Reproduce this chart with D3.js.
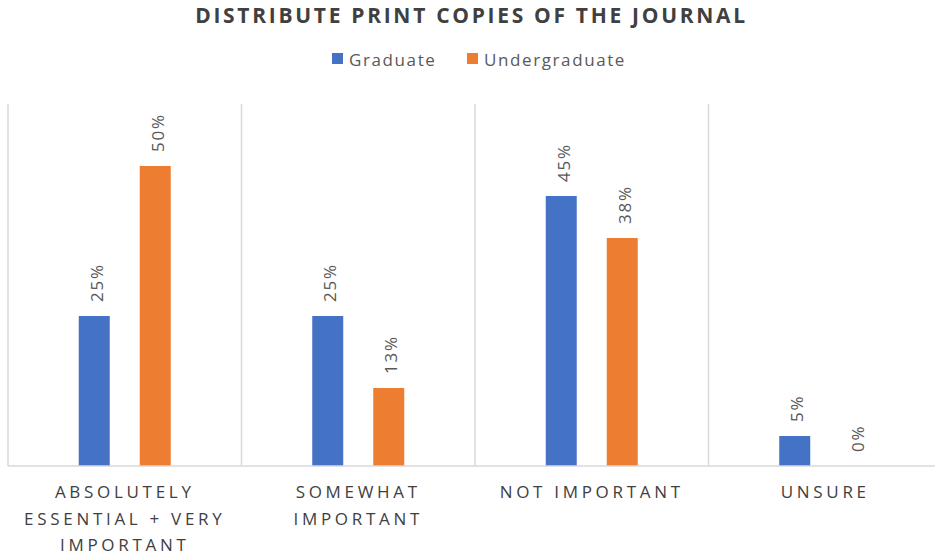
<!DOCTYPE html>
<html>
<head>
<meta charset="utf-8">
<script src="https://cdn.jsdelivr.net/npm/d3@7"></script>
<style>
  html, body { margin: 0; padding: 0; background: #fff; }
  svg { display: block; font-family: "Open Sans", "Noto Sans", sans-serif; }
</style>
</head>
<body>
<svg id="chart" width="935" height="556"></svg>
<script>
// Survey responses by student group
const categories = [
  "ABSOLUTELY ESSENTIAL + VERY IMPORTANT",
  "SOMEWHAT IMPORTANT",
  "NOT IMPORTANT",
  "UNSURE"
];
const seriesNames = ["Graduate", "Undergraduate"];
const graduate = [25, 25, 45, 5];
const undergraduate = [50, 13, 38, 0];
const seriesColors = ["#4472C4", "#ED7D31"];
const chartTitle = "DISTRIBUTE PRINT COPIES OF THE JOURNAL";

const svg = d3.select("#chart");
const W = 935, H = 556;
const plot = { left: 8, right: 942, top: 104, bottom: 466 };

const x = d3.scaleBand().domain(categories).range([plot.left, plot.right]).padding(0);
const y = d3.scaleLinear().domain([0, 60]).range([plot.bottom, plot.top + 2]);

// Two bars per category, centred in the band
const inner = d3.scaleBand()
  .domain(seriesNames)
  .range([x.bandwidth() / 2 - 46, x.bandwidth() / 2 + 46])
  .paddingInner(0.492)
  .paddingOuter(0);

const rows = categories.map((c, i) => ({
  category: c,
  values: [
    { series: seriesNames[0], value: graduate[i], color: seriesColors[0] },
    { series: seriesNames[1], value: undergraduate[i], color: seriesColors[1] }
  ]
}));

// Title
svg.append("text")
  .attr("x", W / 2 + 4)
  .attr("y", 23)
  .attr("text-anchor", "middle")
  .attr("font-size", 21)
  .attr("font-weight", 700)
  .attr("letter-spacing", 2.7)
  .attr("fill", "#404040")
  .text(chartTitle);

// Legend
const legend = svg.append("g");
const legendItems = [
  { name: seriesNames[0], color: seriesColors[0], x: 332 },
  { name: seriesNames[1], color: seriesColors[1], x: 467 }
];
legendItems.forEach(d => {
  legend.append("rect")
    .attr("x", d.x).attr("y", 53).attr("width", 11).attr("height", 11)
    .attr("fill", d.color);
  legend.append("text")
    .attr("x", d.x + 17).attr("y", 66)
    .attr("font-size", 17)
    .attr("letter-spacing", 1.6)
    .attr("fill", "#595959")
    .text(d.name);
});

// Category separators
const edges = categories.map(c => x(c)).concat([plot.right]);
svg.append("g").selectAll("line")
  .data(edges)
  .join("line")
  .attr("x1", d => d).attr("x2", d => d)
  .attr("y1", plot.top).attr("y2", plot.bottom)
  .attr("stroke", "#D9D9D9").attr("stroke-width", 1.5);

// Bars
const groups = svg.append("g").selectAll("g")
  .data(rows)
  .join("g")
  .attr("transform", d => `translate(${x(d.category)},0)`);

groups.selectAll("rect")
  .data(d => d.values)
  .join("rect")
  .attr("x", d => inner(d.series))
  .attr("width", inner.bandwidth())
  .attr("y", d => y(d.value))
  .attr("height", d => y(0) - y(d.value))
  .attr("fill", d => d.color);

// Value labels, rotated
groups.selectAll("text.value")
  .data(d => d.values)
  .join("text")
  .attr("class", "value")
  .attr("transform", d => `translate(${inner(d.series) + inner.bandwidth() / 2 + 2},${y(d.value) - 14}) rotate(-90)`)
  .attr("dominant-baseline", "central")
  .attr("font-size", 17)
  .attr("letter-spacing", 1.8)
  .attr("fill", "#595959")
  .text(d => d.value + "%");

// Baseline
svg.append("line")
  .attr("x1", plot.left).attr("x2", plot.right)
  .attr("y1", y(0)).attr("y2", y(0))
  .attr("stroke", "#D9D9D9").attr("stroke-width", 1.5);

// Category labels with word wrapping
const xAxis = svg.append("g");
categories.forEach(c => {
  const t = xAxis.append("text")
    .attr("x", x(c) + x.bandwidth() / 2)
    .attr("y", 498)
    .attr("text-anchor", "middle")
    .attr("font-size", 17)
    .attr("letter-spacing", 3.7)
    .attr("fill", "#404040");
  const words = c.split(" ");
  let line = [];
  let tspan = t.append("tspan").attr("x", x(c) + x.bandwidth() / 2).attr("dy", 0);
  words.forEach(w => {
    line.push(w);
    tspan.text(line.join(" "));
    if (tspan.node().getComputedTextLength() > 214 && line.length > 1) {
      line.pop();
      tspan.text(line.join(" "));
      line = [w];
      tspan = t.append("tspan")
        .attr("x", x(c) + x.bandwidth() / 2)
        .attr("dy", 26.5)
        .text(w);
    }
  });
});
</script>
</body>
</html>
